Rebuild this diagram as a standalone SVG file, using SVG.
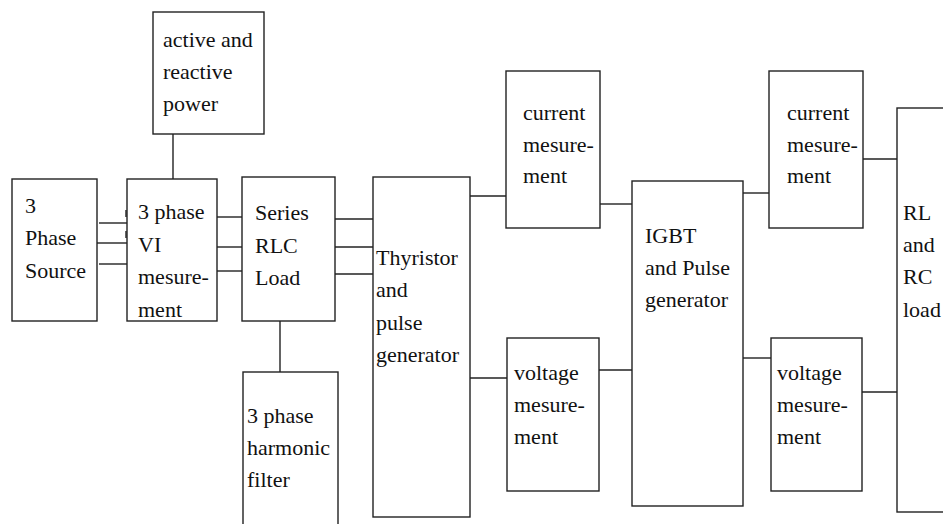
<svg xmlns="http://www.w3.org/2000/svg" width="943" height="524" viewBox="0 0 943 524">
<style>
.box{fill:#fff;stroke:#222;stroke-width:1.4}
.ln{stroke:#222;stroke-width:1.4;fill:none}
text{font-family:'Liberation Serif','DejaVu Serif',serif;font-size:22px;fill:#111}
</style>
<rect width="943" height="524" fill="#fff"/>
<g id="connectors">
<line class="ln" x1="173" y1="134" x2="173" y2="179"/>
<line class="ln" x1="99" y1="223" x2="127" y2="223"/>
<line class="ln" x1="96" y1="243" x2="128" y2="243"/>
<line class="ln" x1="99" y1="264" x2="131" y2="264"/>
<line class="ln" x1="126" y1="210" x2="126" y2="217"/>
<line class="ln" x1="126" y1="231" x2="126" y2="238"/>
<line class="ln" x1="96" y1="233" x2="96" y2="237"/>
<line class="ln" x1="217" y1="217" x2="244" y2="217"/>
<line class="ln" x1="217" y1="247" x2="244" y2="247"/>
<line class="ln" x1="217" y1="271" x2="247" y2="271"/>
<line class="ln" x1="248" y1="208" x2="247" y2="212"/>
<line class="ln" x1="335" y1="219" x2="373" y2="219"/>
<line class="ln" x1="335" y1="247" x2="373" y2="247"/>
<line class="ln" x1="335" y1="274" x2="373" y2="274"/>
<line class="ln" x1="280" y1="321" x2="280" y2="372"/>
<line class="ln" x1="470" y1="196" x2="506" y2="196"/>
<line class="ln" x1="470" y1="378" x2="507" y2="378"/>
<line class="ln" x1="600" y1="204" x2="632" y2="204"/>
<line class="ln" x1="599" y1="370" x2="632" y2="370"/>
<line class="ln" x1="743" y1="193" x2="771" y2="193"/>
<line class="ln" x1="743" y1="358" x2="771" y2="358"/>
<line class="ln" x1="863" y1="159" x2="897" y2="159"/>
<line class="ln" x1="862" y1="392" x2="897" y2="392"/>
<line class="ln" x1="469" y1="321" x2="469" y2="323"/>
</g>
<g id="active-power">
<rect class="box" x="153" y="12" width="111" height="122"/>
<text x="163" y="47" font-family="Liberation Serif">active and</text>
<text x="163" y="79" font-family="Liberation Serif">reactive</text>
<text x="163" y="111" font-family="Liberation Serif">power</text>
</g>
<g id="source">
<rect class="box" x="12" y="179" width="85" height="142"/>
<text x="25" y="213">3</text>
<text x="25" y="245">Phase</text>
<text x="25" y="278">Source</text>
</g>
<g id="vi-measurement">
<rect class="box" x="127" y="179" width="90" height="142"/>
<text x="138" y="219">3 phase</text>
<text x="138" y="252">VI</text>
<text x="138" y="284">mesure-</text>
<text x="138" y="317">ment</text>
</g>
<g id="rlc-load">
<rect class="box" x="242" y="177" width="93" height="144"/>
<text x="255" y="220">Series</text>
<text x="255" y="253">RLC</text>
<text x="255" y="285">Load</text>
</g>
<g id="harmonic-filter">
<rect class="box" x="243" y="372" width="95" height="170"/>
<text x="247" y="423">3 phase</text>
<text x="247" y="455">harmonic</text>
<text x="247" y="487">filter</text>
</g>
<g id="thyristor">
<rect class="box" x="373" y="177" width="97" height="340"/>
<text x="376" y="265">Thyristor</text>
<text x="376" y="297">and</text>
<text x="376" y="330">pulse</text>
<text x="376" y="362">generator</text>
</g>
<g id="current-1">
<rect class="box" x="506" y="71" width="94" height="157"/>
<text x="523" y="120">current</text>
<text x="523" y="152">mesure-</text>
<text x="523" y="183">ment</text>
</g>
<g id="voltage-1">
<rect class="box" x="507" y="338" width="92" height="153"/>
<text x="514" y="380">voltage</text>
<text x="514" y="412">mesure-</text>
<text x="514" y="444">ment</text>
</g>
<g id="igbt">
<rect class="box" x="632" y="181" width="111" height="325"/>
<text x="645" y="243">IGBT</text>
<text x="645" y="275">and Pulse</text>
<text x="645" y="307">generator</text>
</g>
<g id="current-2">
<rect class="box" x="769" y="71" width="94" height="157"/>
<text x="787" y="120">current</text>
<text x="787" y="152">mesure-</text>
<text x="787" y="183">ment</text>
</g>
<g id="voltage-2">
<rect class="box" x="771" y="338" width="91" height="153"/>
<text x="777" y="380">voltage</text>
<text x="777" y="412">mesure-</text>
<text x="777" y="444">ment</text>
</g>
<g id="rl-rc-load">
<rect class="box" x="897" y="108" width="60" height="404"/>
<text x="903" y="220">RL</text>
<text x="903" y="252">and</text>
<text x="903" y="284">RC</text>
<text x="903" y="317">load</text>
</g>
</svg>
